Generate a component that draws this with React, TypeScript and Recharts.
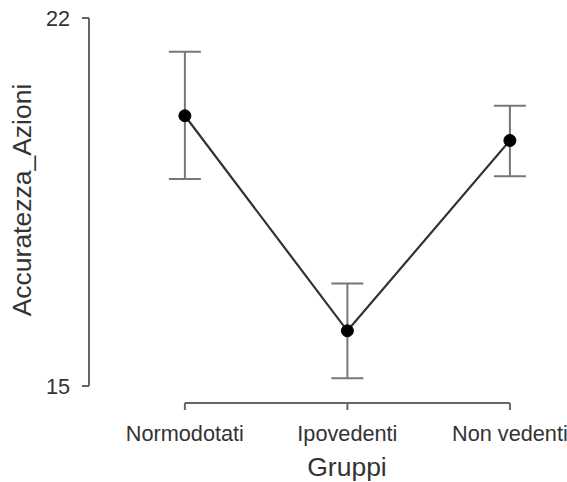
import React from 'react';
import { LineChart, Line, XAxis, YAxis, ErrorBar, ReferenceLine } from 'recharts';

const groups = ['Normodotati', 'Ipovedenti', 'Non vedenti'];
const means = [20.14, 16.05, 19.67];
const lower = [18.94, 15.15, 18.99];
const upper = [21.36, 16.95, 20.33];
const yTicks = [15, 22];

const data = groups.map((g, i) => ({
  i,
  name: g,
  mean: means[i],
  err: [means[i] - lower[i], upper[i] - means[i]],
}));

const X_MIN = -0.59;
const X_MAX = 2.2;
const Y_MIN = 14.677;
const Y_MAX = 22;
const FONT = 'Liberation Sans, Arial, Helvetica, sans-serif';
const AXIS = '#666';

export default function App() {
  return (
    <div style={{ position: 'absolute', left: 0, top: 0, background: '#fff' }}>
      <LineChart width={567} height={482} data={data} margin={{ top: 18, right: 24.6, left: 0, bottom: 0 }}>
        <XAxis
          type="number"
          dataKey="i"
          domain={[X_MIN, X_MAX]}
          ticks={[0, 1, 2]}
          interval={0}
          tickFormatter={(v: number) => groups[v]}
          axisLine={false}
          tickLine={{ stroke: AXIS, strokeWidth: 2 }}
          tickSize={7}
          tickMargin={16}
          height={79}
          tick={{ fill: '#333', fontSize: 21.7, fontFamily: FONT }}
          label={{
            content: (props: any) => {
              const vb = props.viewBox || {};
              return (
                <text x={347} y={vb.y + 64} textAnchor="middle" fontSize={26.5} fontFamily={FONT} fill="#333" dy="0.355em">
                  Gruppi
                </text>
              );
            },
          }}
        />
        <YAxis
          type="number"
          domain={[Y_MIN, Y_MAX]}
          allowDataOverflow
          ticks={yTicks}
          width={89}
          axisLine={false}
          tickLine={{ stroke: AXIS, strokeWidth: 2 }}
          tickSize={7}
          tickMargin={12}
          tick={{ fill: '#333', fontSize: 21.7, fontFamily: FONT }}
          label={{
            content: () => (
              <text
                x={22}
                y={200}
                textAnchor="middle"
                fontSize={26.5}
                fontFamily={FONT}
                fill="#333"
                dy="0.355em"
                transform="rotate(-90 22 200)"
              >
                Accuratezza_Azioni
              </text>
            ),
          }}
        />
        <ReferenceLine
          segment={[{ x: X_MIN, y: yTicks[0] }, { x: X_MIN, y: yTicks[1] }]}
          stroke={AXIS}
          strokeWidth={2}
          ifOverflow="visible"
        />
        <ReferenceLine
          segment={[{ x: 0, y: Y_MIN }, { x: 2, y: Y_MIN }]}
          stroke={AXIS}
          strokeWidth={2}
          ifOverflow="visible"
        />
        <Line
          type="linear"
          dataKey="mean"
          stroke="#333"
          strokeWidth={2.2}
          dot={{ r: 6, fill: '#000', stroke: '#000', strokeWidth: 1 }}
          activeDot={false}
          isAnimationActive={false}
        >
          <ErrorBar dataKey="err" width={16} stroke="#777" strokeWidth={2} direction="y" isAnimationActive={false} />
        </Line>
      </LineChart>
    </div>
  );
}
